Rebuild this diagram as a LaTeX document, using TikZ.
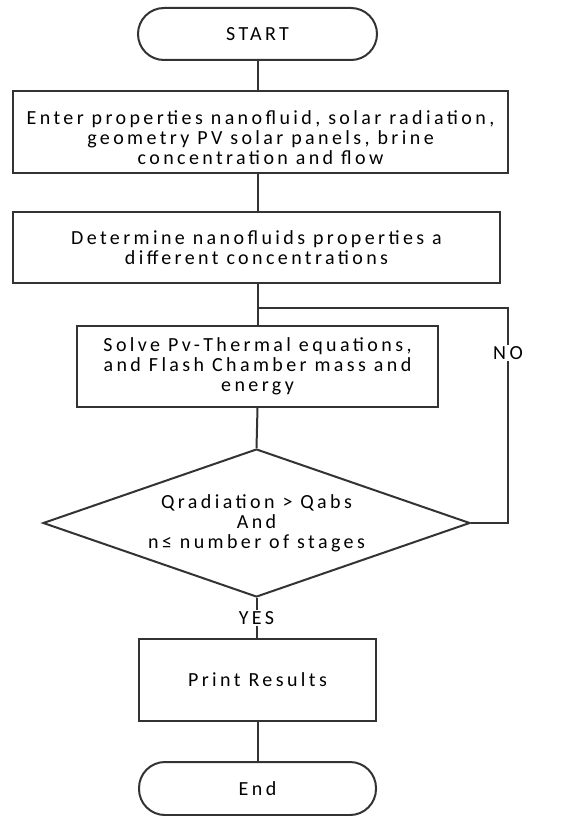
\documentclass[tikz,border=0pt]{standalone}
\usepackage{fontspec}
\setmainfont{Carlito}[LetterSpace=17]
\usetikzlibrary{shapes.geometric}
\begin{document}
\begin{tikzpicture}[x=1pt,y=-1pt,
 every node/.style={font=\fontsize{20}{20}\selectfont, text=black},
 proc/.style={draw=black!80, line width=2pt, align=center, inner sep=0pt},
 term/.style={proc, rounded corners=26pt},
 decision/.style={proc, diamond, aspect=2.9},
 conn/.style={draw=black!80, line width=2pt},
 lab/.style={fill=white, inner sep=1pt}]
\useasboundingbox (0,0) rectangle (566,816);
\fill[white] (0,0) rectangle (566,816);
\node[term, minimum width=239pt, minimum height=52pt] (start) at (257.5,34) {START};
\node[proc, minimum width=495pt, minimum height=82pt] (b1) at (260.5,132)
  {\rule{0pt}{26pt}Enter properties nanofluid, solar radiation,\\ geometry PV solar panels, brine\\ concentration and flow};
\node[proc, minimum width=487pt, minimum height=71pt] (b2) at (256.5,247.5)
  {Determine nanofluids properties a\\ different concentrations};
\node[proc, minimum width=361pt, minimum height=81pt] (b3) at (257.5,366.5)
  {Solve Pv-Thermal equations,\\ and Flash Chamber mass and\\ energy};
\node[decision, minimum width=427pt, minimum height=148pt] (d) at (256.5,523)
  {Qradiation > Qabs\\ And\\ n≤ number of stages};
\node[proc, minimum width=237pt, minimum height=82pt] (b4) at (257.5,680) {Print Results};
\node[term, minimum width=237pt, minimum height=53pt] (end) at (257.5,788.5) {End};
\coordinate (jn) at (257,308);
\coordinate (lc) at (508,308);
\draw[conn] (start.south) -- (start.south |- b1.north);
\draw[conn] (start.south |- b1.south) -- (start.south |- b2.north);
\draw[conn] (start.south |- b2.south) -- (start.south |- b3.north);
\draw[conn] (start.south |- b3.south) -- (d.north);
\draw[conn] (d.south) -- (d.south |- b4.north) node[lab, midway] (yes) {YES};
\draw[conn] (start.south |- b4.south) -- (end.north);
\draw[conn] (d.east) -| (lc) -- (jn);
\node[lab] (no) at (508,353) {NO};
\end{tikzpicture}
\end{document}
